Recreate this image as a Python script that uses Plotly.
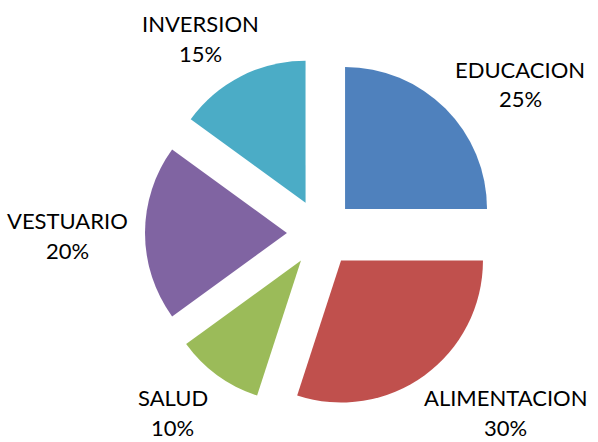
import plotly.graph_objects as go

categories = ["EDUCACION", "ALIMENTACION", "SALUD", "VESTUARIO", "INVERSION"]
values = [25, 30, 10, 20, 15]
colors = ["#4F81BD", "#C0504D", "#9BBB59", "#8064A2", "#4BACC6"]

# label anchor positions in pixels (layout, not data)
label_pos = [(520, 69), (505, 397), (173, 397), (67, 220), (200, 23)]
W, H = 598, 442
line_gap = 30

fig = go.Figure(go.Pie(
    labels=categories, values=values, sort=False, direction="clockwise",
    rotation=0, pull=[0.24] * len(values),
    marker=dict(colors=colors, line=dict(width=0)),
    textinfo="none", hoverinfo="label+percent",
    domain=dict(x=[145 / W, 497 / W], y=[33 / H, 385 / H]),
))

total = sum(values)
ann = []
for cat, v, (px, py) in zip(categories, values, label_pos):
    pct = f"{round(100 * v / total)}%"
    for i, t in enumerate([cat, pct]):
        ann.append(dict(x=px / W, y=1 - (py + i * line_gap) / H, xref="paper", yref="paper",
                        text=t, showarrow=False, xanchor="center", yanchor="middle",
                        borderpad=0,
                        font=dict(family="Lato", size=22, color="#000000")))

fig.update_layout(width=W, height=H, margin=dict(l=0, r=0, t=0, b=0),
                  paper_bgcolor="white", plot_bgcolor="white",
                  showlegend=False, annotations=ann)
fig.write_html("out.html", config={"displayModeBar": False})

with open("out.html", "r", encoding="utf-8") as f:
    html = f.read()
html = html.replace("<head>", "<head><style>html,body{margin:0;padding:0;overflow:hidden;}</style>", 1)
with open("out.html", "w", encoding="utf-8") as f:
    f.write(html)
